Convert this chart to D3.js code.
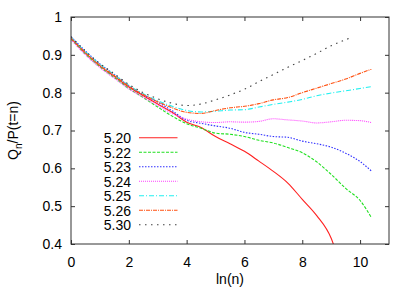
<!DOCTYPE html>
<meta charset="utf-8">
<style>
body { margin: 0; background: #fff; }
svg { font-family: "Liberation Sans", Arial, sans-serif; }
.frame { fill: none; stroke: #333; stroke-width: 1; }
.tick line { stroke: #333; }
.tick text { font-size: 14px; fill: #000; }
.line { fill: none; stroke-width: 1.1; }
.legend text { font-size: 14px; }
</style>
<body>
<svg width="415" height="291"></svg>
<script src="https://cdn.jsdelivr.net/npm/d3@7"></script>
<script>

// x grid shared by most series (ln n)
var xs = [0, 0.5, 1, 1.5, 2, 2.5, 3, 3.5, 4, 4.5, 5, 5.5, 6, 6.5, 7, 7.5, 8, 8.5, 9, 9.5, 10, 10.39];

var labels = ["5.20", "5.22", "5.23", "5.24", "5.25", "5.26", "5.30"];

var q520 = [0.944, 0.905, 0.871, 0.843, 0.815, 0.792, 0.770, 0.748, 0.722, 0.708, 0.684, 0.665, 0.645, 0.619, 0.592, 0.561, 0.518, 0.475, 0.415, 0.36];
var q522 = [0.942, 0.902, 0.868, 0.840, 0.811, 0.787, 0.762, 0.738, 0.718, 0.706, 0.693, 0.690, 0.684, 0.674, 0.667, 0.655, 0.641, 0.617, 0.584, 0.547, 0.515, 0.470];
var q523 = [0.948, 0.910, 0.876, 0.848, 0.818, 0.795, 0.775, 0.752, 0.727, 0.719, 0.712, 0.706, 0.695, 0.690, 0.684, 0.682, 0.672, 0.665, 0.656, 0.640, 0.618, 0.593];
var q524 = [0.940, 0.900, 0.866, 0.838, 0.810, 0.788, 0.766, 0.745, 0.730, 0.723, 0.721, 0.723, 0.722, 0.724, 0.731, 0.728, 0.725, 0.720, 0.723, 0.727, 0.726, 0.721];
var q525 = [0.946, 0.908, 0.875, 0.847, 0.819, 0.797, 0.779, 0.764, 0.753, 0.749, 0.751, 0.754, 0.755, 0.762, 0.769, 0.775, 0.782, 0.792, 0.799, 0.805, 0.811, 0.816];
var q526 = [0.944, 0.905, 0.872, 0.845, 0.817, 0.795, 0.776, 0.760, 0.748, 0.745, 0.753, 0.760, 0.764, 0.771, 0.781, 0.787, 0.800, 0.812, 0.824, 0.836, 0.851, 0.862];
var q530 = [0.948, 0.910, 0.877, 0.850, 0.822, 0.800, 0.784, 0.772, 0.766, 0.770, 0.781, 0.794, 0.809, 0.829, 0.848, 0.867, 0.885, 0.904, 0.924, 0.944];

var xTicks = [0, 2, 4, 6, 8, 10];
var yTicks = [0.4, 0.5, 0.6, 0.7, 0.8, 0.9, 1];

var colors = ["#ff2020", "#20e020", "#3030ff", "#ff40ff", "#20f0f0", "#ff5010", "#404040"];
var dashes = ["none", "3,1.5", "1.5,1.5", "1,1", "5,2,1,2", "4,1,1,1", "1.5,4.5"];

var svg = d3.select("svg"),
    margin = {left: 71, right: 26, top: 17, bottom: 47},
    width = +svg.attr("width") - margin.left - margin.right,
    height = +svg.attr("height") - margin.top - margin.bottom;

var x = d3.scaleLinear().domain([0, 11]).range([0, width]);
var y = d3.scaleLinear().domain([0.4, 1]).range([height, 0]);

var g = svg.append("g").attr("transform", "translate(" + margin.left + "," + margin.top + ")");

g.append("clipPath").attr("id", "clip")
  .append("rect").attr("width", width).attr("height", height);

var series = [q520, q522, q523, q524, q525, q526, q530];

var line = d3.line()
    .x(function(d) { return x(d[0]); })
    .y(function(d) { return y(d[1]); })
    .curve(d3.curveMonotoneX);

g.append("g").attr("clip-path", "url(#clip)")
  .selectAll("path")
  .data(series)
  .enter().append("path")
    .attr("class", "line")
    .attr("stroke", function(d, i) { return colors[i]; })
    .attr("stroke-dasharray", function(d, i) { return dashes[i]; })
    .attr("d", function(d, i) {
      var xv = xs.slice();
      if (i === 0) xv[19] = 9.25;          // 5.20 runs off the bottom
      if (i === 6) xv[19] = 9.64;          // 5.30 stops earlier
      return line(d.map(function(v, j) { return [xv[j], v]; }));
    });

// axes (gnuplot-like: ticks inward, mirrored)
g.append("g").attr("transform", "translate(0," + height + ")")
  .call(d3.axisBottom(x).tickValues(xTicks).tickSize(-4).tickPadding(13).tickFormat(d3.format("d")))
  .call(function(a) { a.select(".domain").remove(); });
g.append("g")
  .call(d3.axisTop(x).tickValues(xTicks).tickSize(-4).tickFormat(""))
  .call(function(a) { a.select(".domain").remove(); });
g.append("g")
  .call(d3.axisLeft(y).tickValues(yTicks).tickSize(-4).tickPadding(9).tickFormat(function(d) { return d === 1 ? "1" : d3.format(".1f")(d); }))
  .call(function(a) { a.select(".domain").remove(); });
g.append("g").attr("transform", "translate(" + width + ",0)")
  .call(d3.axisRight(y).tickValues(yTicks).tickSize(-4).tickFormat(""))
  .call(function(a) { a.select(".domain").remove(); });

g.append("rect").attr("class", "frame").attr("width", width).attr("height", height);

// axis titles
svg.append("text")
    .attr("x", margin.left + width / 2)
    .attr("y", 284)
    .attr("text-anchor", "middle")
    .style("font-size", "14px")
    .text("ln(n)");

var yt = svg.append("text")
    .attr("transform", "translate(18," + (margin.top + height / 2) + ") rotate(-90)")
    .attr("text-anchor", "middle")
    .style("font-size", "14px");
yt.append("tspan").text("Q");
yt.append("tspan").attr("dy", 4).style("font-size", "10px").text("n");
yt.append("tspan").attr("dy", -4).text("/P(t=n)");

// legend
var legend = svg.append("g").attr("class", "legend")
  .selectAll("g")
  .data(labels)
  .enter().append("g")
    .attr("transform", function(d, i) { return "translate(0," + (143.3 + i * 14.5) + ")"; });

legend.append("text")
    .attr("x", 131)
    .attr("text-anchor", "end")
    .text(function(d) { return d; });

legend.append("line")
    .attr("x1", 139).attr("x2", 177.5)
    .attr("y1", -5.5).attr("y2", -5.5)
    .attr("stroke", function(d, i) { return colors[i]; })
    .attr("stroke-width", 1.1)
    .attr("stroke-dasharray", function(d, i) { return dashes[i]; });

</script>
</body>
